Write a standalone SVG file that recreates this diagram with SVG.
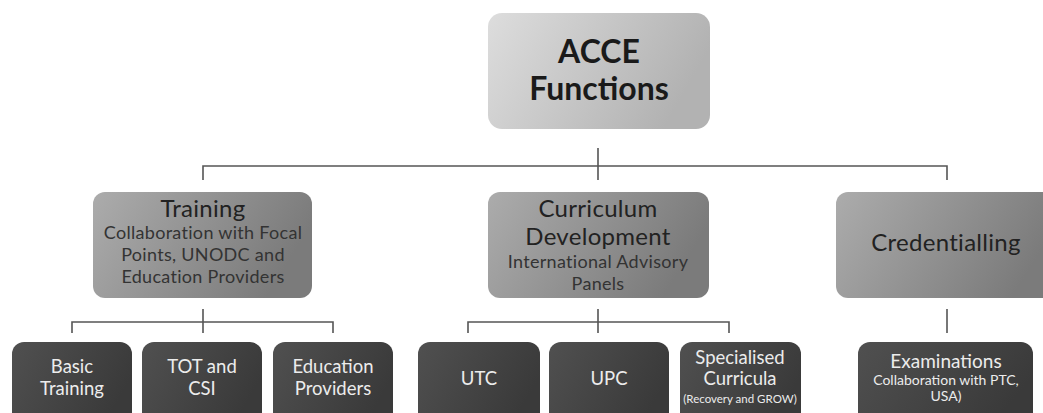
<svg xmlns="http://www.w3.org/2000/svg" width="1043" height="413" viewBox="0 0 1043 413">
<defs>
<linearGradient id="gTop" x1="0" y1="0" x2="1" y2="0.3"><stop offset="0" stop-color="#dddddd"/><stop offset="1" stop-color="#b2b2b2"/></linearGradient>
<linearGradient id="gMid" x1="0" y1="0" x2="1" y2="0.3"><stop offset="0" stop-color="#acacac"/><stop offset="1" stop-color="#7b7b7b"/></linearGradient>
<linearGradient id="gLow" x1="0" y1="0" x2="1" y2="0.4"><stop offset="0" stop-color="#505050"/><stop offset="1" stop-color="#3a3a3a"/></linearGradient>
<style>
.top{fill:url(#gTop)}
.mid{fill:url(#gMid)}
.low{fill:url(#gLow)}
text{font-family:Lato,"Liberation Sans",sans-serif;text-anchor:middle}
.t1{font-size:32px;font-weight:bold;fill:#1a1a1a}
.t2{font-size:24px;fill:#222;letter-spacing:0.3px}
.s2{font-size:18px;fill:#333;letter-spacing:0.3px}
.t3{font-size:18.5px;fill:#ececec}
.s3{font-size:14px;fill:#ececec}
.c{stroke:#555;stroke-width:1.6;fill:none}
</style>
</defs>
<rect width="1043" height="413" fill="#ffffff"/>
<g id="connectors">
<path class="c" d="M598,148V180M203,180V166H947V180"/>
<path class="c" d="M203,309V333M72,333V322H333V333"/>
<path class="c" d="M598,309V333M468,333V322H729V333"/>
<path class="c" d="M947,309V333"/>
</g>
<g id="acce"><rect class="top" x="488" y="13" width="222" height="116" rx="14"/><text class="t1" x="599" y="63">ACCE</text><text class="t1" x="599" y="100">Functions</text></g>
<g id="training"><rect class="mid" x="93" y="192" width="219" height="106" rx="12"/><text class="t2" x="203" y="217">Training</text><text class="s2" x="203" y="239">Collaboration with Focal</text><text class="s2" x="203" y="261">Points, UNODC and</text><text class="s2" x="203" y="283">Education Providers</text></g>
<g id="curriculum"><rect class="mid" x="488" y="192" width="221" height="106" rx="12"/><text class="t2" x="598" y="217">Curriculum</text><text class="t2" x="598" y="245">Development</text><text class="s2" x="598" y="268">International Advisory</text><text class="s2" x="598" y="290">Panels</text></g>
<g id="credentialling"><rect class="mid" x="836" y="192" width="222" height="106" rx="12"/><text class="t2" x="946" y="251">Credentialling</text></g>
<g id="basic"><rect class="low" x="12" y="342" width="120" height="85" rx="12"/><text class="t3" x="72" y="373">Basic</text><text class="t3" x="72" y="395">Training</text></g>
<g id="tot"><rect class="low" x="142" y="342" width="120" height="85" rx="12"/><text class="t3" x="202" y="373">TOT and</text><text class="t3" x="202" y="395">CSI</text></g>
<g id="eduprov"><rect class="low" x="273" y="342" width="120" height="85" rx="12"/><text class="t3" x="333" y="373">Education</text><text class="t3" x="333" y="395">Providers</text></g>
<g id="utc"><rect class="low" x="418" y="342" width="122" height="85" rx="12"/><text class="t3" x="479" y="385">UTC</text></g>
<g id="upc"><rect class="low" x="549" y="342" width="120" height="85" rx="12"/><text class="t3" x="609" y="385">UPC</text></g>
<g id="specialised"><rect class="low" x="680" y="342" width="121" height="85" rx="12"/><text class="t3" x="740" y="364">Specialised</text><text class="t3" x="740" y="385">Curricula</text><text class="s3" x="740" y="403" style="font-size:11.5px">(Recovery and GROW)</text></g>
<g id="exams"><rect class="low" x="858" y="342" width="175" height="85" rx="12"/><text class="t3" x="946" y="368" style="font-size:19px">Examinations</text><text class="s3" x="946" y="385">Collaboration with PTC,</text><text class="s3" x="946" y="401">USA)</text></g>
</svg>
